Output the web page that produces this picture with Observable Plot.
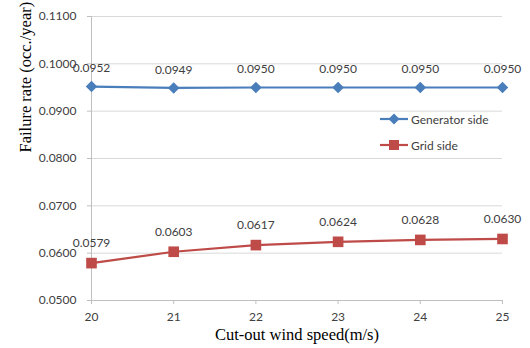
<!DOCTYPE html>
<html>
<head>
<meta charset="utf-8">
<script src="https://cdn.jsdelivr.net/npm/d3@7"></script>
<script src="https://cdn.jsdelivr.net/npm/@observablehq/plot@0.6"></script>
<style>
  html, body { margin: 0; padding: 0; background: #fff; }
  #wrap { position: relative; width: 530px; height: 348px; }
  #legend { position: absolute; left: 380px; top: 110px; font-family: Lato, sans-serif; font-size: 12px; color: #404040; }
  .li { display: flex; align-items: center; height: 18px; margin-bottom: 8px; }
  .li svg { margin-right: 3px; }
</style>
</head>
<body>
<div id="wrap"></div>
<script>
const speeds = [20, 21, 22, 23, 24, 25];
const generatorSide = [0.0952, 0.0949, 0.0950, 0.0950, 0.0950, 0.0950];
const gridSide = [0.0579, 0.0603, 0.0617, 0.0624, 0.0628, 0.0630];
const yTicks = [0.05, 0.06, 0.07, 0.08, 0.09, 0.10, 0.11];
const seriesNames = ["Generator side", "Grid side"];
const seriesColors = ["#4A7EBB", "#BE4B48"];

const gen = speeds.map((s, i) => ({x: s, y: generatorSide[i]}));
const grid = speeds.map((s, i) => ({x: s, y: gridSide[i]}));
const fmt = d3.format(".4f");

const chart = Plot.plot({
  width: 530,
  height: 348,
  marginLeft: 91,
  marginRight: 28,
  marginTop: 16,
  marginBottom: 48,
  style: {fontFamily: "Lato, sans-serif", fontSize: "12px", color: "#404040", background: "#fff"},
  x: {domain: [20, 25]},
  y: {domain: [0.05, 0.11]},
  marks: [
    Plot.gridY(yTicks, {stroke: "#d9d9d9", strokeOpacity: 1}),
    Plot.ruleX([speeds[0]], {stroke: "#bfbfbf"}),
    Plot.ruleY([yTicks[0]], {stroke: "#bfbfbf"}),
    Plot.axisY({ticks: yTicks, tickFormat: fmt, tickSize: 4, tickPadding: 11, stroke: "#bfbfbf", fill: "#404040", label: null}),
    Plot.axisX({ticks: speeds, tickFormat: d => d, tickSize: 4, tickPadding: 8, stroke: "#bfbfbf", fill: "#404040", label: null}),
    Plot.line(gen, {x: "x", y: "y", stroke: seriesColors[0], strokeWidth: 2.2}),
    Plot.dot(gen, {x: "x", y: "y", symbol: "diamond2", r: 5.2, fill: seriesColors[0], stroke: null}),
    Plot.text(gen, {x: "x", y: "y", text: d => fmt(d.y), dy: -18, fill: "#404040"}),
    Plot.line(grid, {x: "x", y: "y", stroke: seriesColors[1], strokeWidth: 2.2}),
    Plot.dot(grid, {x: "x", y: "y", symbol: "square", r: 6, fill: seriesColors[1], stroke: null}),
    Plot.text(grid, {x: "x", y: "y", text: d => fmt(d.y), dy: -20, fill: "#404040"}),
    Plot.text(["Cut-out wind speed(m/s)"], {frameAnchor: "bottom", dy: 39, fontFamily: "Liberation Serif, serif", fontSize: 16.5, fill: "#000"}),
    Plot.text(["Failure rate (occ./year)"], {frameAnchor: "left", dx: -66, dy: -6, rotate: -90, fontFamily: "Liberation Serif, serif", fontSize: 16.5, fill: "#000"})
  ]
});

const wrap = document.getElementById("wrap");
wrap.appendChild(chart);

const legend = document.createElement("div");
legend.id = "legend";
const syms = [
  '<polygon points="14,0.5 19.5,6 14,11.5 8.5,6" fill="' + seriesColors[0] + '"/>',
  '<rect x="9" y="1" width="10" height="10" fill="' + seriesColors[1] + '"/>'
];
seriesNames.forEach((name, i) => {
  const row = document.createElement("div");
  row.className = "li";
  row.innerHTML = '<svg width="28" height="12"><line x1="0" y1="6" x2="28" y2="6" stroke="' + seriesColors[i] + '" stroke-width="2.2"/>' + syms[i] + '</svg><span>' + name + '</span>';
  legend.appendChild(row);
});
wrap.appendChild(legend);
</script>
</body>
</html>
